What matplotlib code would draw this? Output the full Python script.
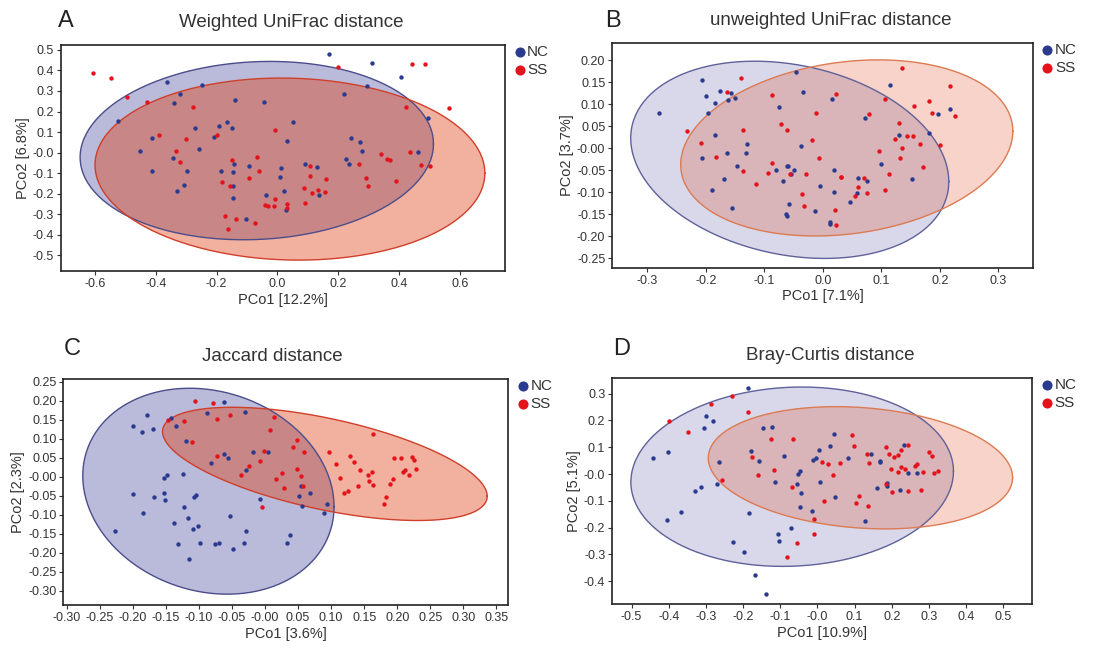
import numpy as np
import matplotlib
matplotlib.use("Agg")
import matplotlib.pyplot as plt

plt.rcParams["font.family"] = ["Liberation Sans", "DejaVu Sans"]
plt.rcParams["axes.unicode_minus"] = False

# ---- A: Weighted UniFrac ----
a_nc_x = [0.170, 0.312, 0.405, 0.219, 0.295, -0.362, -0.249, -0.320, -0.340, -0.140, -0.044, -0.523,
          0.050, -0.166, -0.191, -0.151, -0.270, -0.411, -0.208, 0.030, 0.243, 0.271, 0.496, -0.451,
          -0.258, 0.278, 0.462, -0.342, -0.142, -0.093, 0.224, 0.235, 0.091, 0.012, 0.131, -0.412,
          -0.297, -0.187, -0.146, 0.008, -0.307, -0.145, -0.332, 0.022, -0.039, -0.145, 0.135, 0.028, -0.103]
a_nc_y = [0.479, 0.438, 0.368, 0.287, 0.324, 0.344, 0.329, 0.287, 0.241, 0.256, 0.246, 0.153,
          0.147, 0.149, 0.129, 0.118, 0.121, 0.072, 0.076, 0.056, 0.071, 0.054, 0.168, 0.009,
          0.019, 0.007, 0.001, -0.027, -0.054, -0.063, -0.033, -0.053, -0.053, -0.076, -0.072, -0.089,
          -0.087, -0.089, -0.092, -0.118, -0.157, -0.160, -0.186, -0.185, -0.206, -0.219, -0.204, -0.277, -0.324]
a_ss_x = [-0.608, -0.549, -0.494, -0.430, -0.279, 0.198, 0.444, 0.486, 0.422, 0.563, -0.388, -0.301,
          -0.199, -0.007, -0.333, -0.322, -0.150, -0.068, -0.060, -0.094, -0.181, -0.156, 0.342, 0.359,
          0.370, 0.436, 0.472, 0.502, 0.267, 0.108, 0.107, 0.292, 0.298, 0.391, 0.088, 0.114, 0.132,
          0.155, 0.161, 0.092, -0.008, -0.040, -0.032, -0.011, 0.032, 0.032, -0.172, -0.138, -0.074, -0.162]
a_ss_y = [0.388, 0.362, 0.271, 0.248, 0.224, 0.417, 0.432, 0.432, 0.224, 0.215, 0.085, 0.067,
          0.087, 0.108, 0.009, -0.046, -0.037, -0.020, -0.089, -0.124, -0.142, -0.163, -0.007, -0.033,
          -0.037, 0.001, -0.059, -0.066, -0.054, -0.066, -0.113, -0.121, -0.163, -0.139, -0.173, -0.194, -0.180,
          -0.191, -0.129, -0.243, -0.225, -0.254, -0.259, -0.259, -0.248, -0.267, -0.306, -0.324, -0.341, -0.370]

# ---- B: unweighted UniFrac ----
b_nc_x = [-0.280, -0.206, -0.200, -0.197, -0.176, -0.184, -0.162, -0.157, -0.150, -0.185, -0.206, -0.163,
          -0.130, -0.132, -0.146, -0.169, -0.189, -0.156, -0.045, -0.033, -0.075, -0.038, -0.080, -0.062,
          -0.059, -0.049, -0.054, -0.068, -0.005, -0.058, -0.063, -0.062, -0.014, 0.019, 0.019, 0.015,
          0.013, 0.013, 0.072, 0.060, 0.075, 0.047, 0.058, 0.115, 0.100, 0.131, 0.182, 0.197, 0.217, 0.153]
b_nc_y = [0.080, 0.156, 0.119, 0.080, 0.130, 0.104, 0.110, 0.125, 0.115, 0.031, -0.023, -0.011,
          0.010, -0.011, -0.040, -0.070, -0.095, -0.136, 0.173, 0.128, 0.094, 0.005, -0.050, -0.039,
          -0.041, -0.050, -0.058, -0.074, -0.085, -0.127, -0.150, -0.154, -0.143, -0.100, -0.050, 0.113,
          -0.168, -0.172, 0.069, -0.067, -0.075, -0.121, -0.101, 0.145, -0.036, 0.030, 0.035, 0.079, 0.090, -0.069]
b_ss_x = [-0.140, -0.164, -0.233, -0.209, -0.136, -0.183, -0.137, -0.115, -0.086, -0.071, -0.062, -0.086,
          -0.094, -0.056, -0.028, -0.036, -0.032, -0.018, -0.011, -0.007, 0.023, 0.031, 0.032, 0.021,
          0.022, 0.079, 0.060, 0.070, 0.075, 0.055, 0.096, 0.107, 0.106, 0.113, 0.131, 0.132, 0.123,
          0.136, 0.136, 0.156, 0.144, 0.155, 0.166, 0.172, 0.181, 0.186, 0.200, 0.218, 0.226]
b_ss_y = [0.159, 0.128, 0.039, 0.013, 0.042, -0.020, -0.052, -0.080, 0.122, 0.056, 0.041, -0.033,
          -0.056, -0.058, -0.058, -0.103, -0.131, 0.020, 0.080, -0.023, 0.124, -0.066, -0.064, -0.139,
          -0.174, 0.077, -0.087, -0.067, -0.101, -0.108, -0.005, 0.112, -0.095, -0.058, 0.057, -0.023, 0.021,
          0.001, 0.183, 0.096, 0.027, 0.029, 0.011, -0.043, 0.108, 0.080, 0.007, 0.142, 0.073]

# ---- C: Jaccard ----
c_nc_x = [-0.062, -0.030, -0.087, -0.179, -0.199, -0.186, -0.170, -0.142, -0.135, -0.120, -0.081, -0.062,
          -0.056, -0.018, 0.005, -0.028, -0.148, -0.152, -0.124, -0.200, -0.168, -0.153, -0.151, -0.107,
          -0.104, -0.123, -0.184, -0.117, -0.138, -0.102, -0.109, -0.053, -0.008, -0.029, -0.227, -0.131,
          -0.099, -0.075, -0.069, -0.048, -0.032, -0.115, 0.038, 0.033, 0.051, 0.055, 0.068, 0.056, 0.093, 0.089]
c_nc_y = [0.195, 0.169, 0.168, 0.161, 0.132, 0.118, 0.126, 0.154, 0.132, 0.094, 0.035, 0.060,
          0.050, 0.064, 0.065, 0.016, 0.005, -0.004, 0.006, -0.046, -0.054, -0.043, -0.062, -0.053,
          -0.048, -0.081, -0.095, -0.108, -0.122, -0.129, -0.139, -0.104, -0.059, -0.144, -0.143, -0.178,
          -0.176, -0.178, -0.175, -0.190, -0.176, -0.218, -0.154, -0.174, -0.050, -0.026, -0.044, -0.078, -0.072, -0.095]
c_ss_x = [-0.106, -0.079, -0.147, -0.123, -0.073, -0.053, 0.013, 0.007, -0.111, -0.073, -0.024, -0.037,
          -0.007, -0.002, -0.004, 0.049, 0.042, 0.059, 0.049, 0.055, 0.026, 0.017, 0.028, 0.058,
          0.097, 0.107, 0.114, 0.119, 0.126, 0.129, 0.134, 0.144, 0.141, 0.156, 0.158, 0.162, 0.164,
          0.163, 0.183, 0.180, 0.189, 0.194, 0.195, 0.206, 0.208, 0.211, 0.218, 0.222, 0.226, 0.229]
c_ss_y = [0.198, 0.194, 0.148, 0.146, 0.152, 0.161, 0.157, 0.123, 0.090, 0.053, 0.029, 0.003,
          0.040, 0.068, -0.079, 0.097, 0.078, 0.064, 0.020, 0.001, 0.009, -0.007, -0.030, -0.026,
          0.065, 0.032, -0.004, -0.044, -0.039, 0.055, 0.038, 0.017, -0.026, 0.004, -0.013, 0.012, -0.023,
          0.111, -0.053, -0.072, -0.019, -0.006, 0.048, 0.050, 0.012, 0.016, 0.003, 0.052, 0.044, 0.020]

# ---- D: Bray-Curtis ----
d_nc_x = [-0.186, -0.299, -0.281, -0.305, -0.147, -0.121, -0.403, -0.443, -0.264, -0.178, -0.158, -0.091,
          0.045, 0.033, 0.005, -0.011, -0.005, 0.081, -0.046, -0.051, -0.113, -0.054, 0.008, -0.044,
          -0.271, -0.312, -0.330, -0.368, -0.405, -0.185, -0.046, -0.014, 0.047, -0.071, -0.105, -0.103,
          -0.228, -0.198, -0.168, -0.139, 0.145, 0.167, 0.167, 0.232, 0.161, 0.187, 0.187, 0.222, 0.243, 0.269, 0.128]
d_nc_y = [0.321, 0.217, 0.199, 0.172, 0.170, 0.176, 0.083, 0.059, 0.045, 0.084, 0.050, 0.069,
          0.148, 0.106, 0.090, 0.053, 0.058, 0.058, 0.011, 0.000, -0.031, -0.036, -0.029, -0.070,
          -0.037, -0.048, -0.063, -0.140, -0.171, -0.144, -0.124, -0.139, -0.085, -0.201, -0.225, -0.249,
          -0.255, -0.289, -0.375, -0.446, 0.076, 0.043, 0.048, 0.107, -0.053, -0.035, -0.043, -0.060, 0.002, 0.002, -0.176]
d_ss_x = [-0.400, -0.348, -0.286, -0.230, -0.186, -0.125, -0.066, -0.176, -0.161, -0.116, -0.256, -0.068,
          -0.054, -0.081, -0.009, -0.008, 0.018, 0.013, 0.029, 0.062, 0.043, 0.094, 0.099, 0.105,
          0.112, 0.137, 0.133, 0.138, 0.184, 0.193, 0.199, 0.201, 0.207, 0.217, 0.216, 0.226, 0.224,
          0.235, 0.244, 0.243, 0.263, 0.269, 0.285, 0.278, 0.300, 0.307, 0.313, 0.325, 0.185]
d_ss_y = [0.199, 0.156, 0.261, 0.290, 0.232, 0.131, 0.130, 0.064, -0.002, 0.015, -0.023, -0.050,
          -0.256, -0.309, -0.222, -0.167, -0.101, 0.046, 0.039, 0.040, -0.002, 0.145, 0.104, -0.107,
          -0.083, -0.120, 0.076, 0.041, 0.102, 0.074, 0.018, -0.068, 0.062, 0.071, 0.007, 0.089, 0.027,
          0.020, 0.110, -0.062, 0.029, 0.039, 0.008, -0.060, 0.081, 0.069, 0.004, 0.011, -0.036]

# 95% ellipses: centre x, centre y, half-width x, half-height y, correlation
a_nc_ell = (-0.068, 0.010, 0.581, 0.434, 0.075)
a_ss_ell = (0.041, -0.080, 0.641, 0.443, -0.045)
b_nc_ell = (-0.0565, -0.026, 0.272, 0.224, -0.22)
b_ss_ell = (0.041, 0.001, 0.284, 0.200, 0.19)
c_nc_ell = (-0.0856, -0.0386, 0.190, 0.271, -0.15)
c_ss_ell = (0.0905, 0.0333, 0.2455, 0.149, -0.57)
d_nc_ell = (-0.068, -0.010, 0.434, 0.3345, 0.06)
d_ss_ell = (0.1157, 0.0233, 0.4094, 0.228, -0.16)

panels = [
    dict(letter="A", title="Weighted UniFrac distance", xlabel="PCo1 [12.2%]", ylabel="PCo2 [6.8%]",
         nc=(a_nc_x, a_nc_y), ss=(a_ss_x, a_ss_y), nc_ell=a_nc_ell, ss_ell=a_ss_ell,
         xticks=np.arange(-0.6, 0.61, 0.2), yticks=np.arange(-0.5, 0.51, 0.1), fmt="%.1f",
         xlim=(-0.713, 0.748), ylim=(-0.576, 0.524), alpha=0.38, edges=("#4b4d8a", "#cf3f2a"),
         rect=[0.0547, 0.5818, 0.4006, 0.3488], letter_xy=(58, 27), title_x=0.52),
    dict(letter="B", title="unweighted UniFrac distance", xlabel="PCo1 [7.1%]", ylabel="PCo2 [3.7%]",
         nc=(b_nc_x, b_nc_y), ss=(b_ss_x, b_ss_y), nc_ell=b_nc_ell, ss_ell=b_ss_ell,
         xticks=np.arange(-0.3, 0.31, 0.1), yticks=np.arange(-0.25, 0.21, 0.05), fmt="%.2f", xfmt="%.1f",
         xlim=(-0.360, 0.359), ylim=(-0.271, 0.240), alpha=0.21, edges=("#5f6199", "#dc7a52"),
         rect=[0.5521, 0.5869, 0.3791, 0.3472], letter_xy=(605, 27), title_x=0.52),
    dict(letter="C", title="Jaccard distance", xlabel="PCo1 [3.6%]", ylabel="PCo2 [2.3%]",
         nc=(c_nc_x, c_nc_y), ss=(c_ss_x, c_ss_y), nc_ell=c_nc_ell, ss_ell=c_ss_ell,
         xticks=np.arange(-0.30, 0.351, 0.05), yticks=np.arange(-0.30, 0.251, 0.05), fmt="%.2f",
         xlim=(-0.305, 0.368), ylim=(-0.338, 0.256), alpha=0.38, edges=("#4b4d8a", "#cf3f2a"),
         rect=[0.0571, 0.0664, 0.4013, 0.3483], letter_xy=(64, 355), title_x=0.47),
    dict(letter="D", title="Bray-Curtis distance", xlabel="PCo1 [10.9%]", ylabel="PCo2 [5.1%]",
         nc=(d_nc_x, d_nc_y), ss=(d_ss_x, d_ss_y), nc_ell=d_nc_ell, ss_ell=d_ss_ell,
         xticks=np.arange(-0.5, 0.51, 0.1), yticks=np.arange(-0.4, 0.31, 0.1), fmt="%.1f",
         xlim=(-0.552, 0.578), ylim=(-0.486, 0.357), alpha=0.21, edges=("#5f6199", "#dc7a52"),
         rect=[0.5521, 0.0674, 0.3787, 0.3488], letter_xy=(613, 355), title_x=0.52),
]

NC_DOT = "#2a3b8f"
SS_DOT = "#e3121b"
NC_FILL = "#4b4ba0"
SS_FILL = "#df3200"


def ellipse_xy(ell, n=240):
    cx, cy, sx, sy, r = ell
    t = np.linspace(0, 2 * np.pi, n)
    x = cx + sx * np.cos(t)
    y = cy + sy * (r * np.cos(t) + np.sqrt(1 - r * r) * np.sin(t))
    return x, y


W, H = 1109, 648
fig = plt.figure(figsize=(W / 100, H / 100), dpi=100)

for p in panels:
    ax = fig.add_axes(p["rect"])
    nc_edge, ss_edge = p["edges"]
    ex, ey = ellipse_xy(p["nc_ell"])
    ax.fill(ex, ey, facecolor=NC_FILL, alpha=p["alpha"], edgecolor="none", zorder=1)
    ax.plot(ex, ey, color=nc_edge, lw=1.0, zorder=2)
    ex, ey = ellipse_xy(p["ss_ell"])
    ax.fill(ex, ey, facecolor=SS_FILL, alpha=p["alpha"], edgecolor="none", zorder=1)
    ax.plot(ex, ey, color=ss_edge, lw=1.0, zorder=2)

    ax.scatter(*p["nc"], s=10, color=NC_DOT, zorder=3, linewidths=0, label="NC")
    ax.scatter(*p["ss"], s=10, color=SS_DOT, zorder=3, linewidths=0, label="SS")

    ax.set_xlim(*p["xlim"])
    ax.set_ylim(*p["ylim"])
    ax.set_xticks(p["xticks"])
    ax.set_yticks(p["yticks"])
    ax.set_xticklabels([p.get("xfmt", p["fmt"]) % v for v in p["xticks"]])
    ax.set_yticklabels([p["fmt"] % v for v in p["yticks"]])
    ax.tick_params(labelsize=9, length=3, width=0.8, color="#333333", labelcolor="#333333", pad=2)
    for s in ax.spines.values():
        s.set_linewidth(1.2)
        s.set_color("#222222")
    ax.set_xlabel(p["xlabel"], fontsize=10.5, color="#333333", labelpad=2)
    ax.set_ylabel(p["ylabel"], fontsize=10.5, color="#333333", labelpad=2)
    ax.set_title(p["title"], fontsize=13.5, color="#333333", pad=13, x=p["title_x"])

    leg = ax.legend(loc="upper left", bbox_to_anchor=(0.995, 1.04), frameon=False, fontsize=11,
                    markerscale=2.3, handletextpad=0.0, labelspacing=0.25, borderaxespad=0.2,
                    handlelength=1.0)
    for t in leg.get_texts():
        t.set_color("#333333")

    lx, ly = p["letter_xy"]
    fig.text(lx / W, 1 - ly / H, p["letter"], fontsize=17, color="#222222", ha="left", va="baseline")

fig.savefig("out.png", dpi=100)
